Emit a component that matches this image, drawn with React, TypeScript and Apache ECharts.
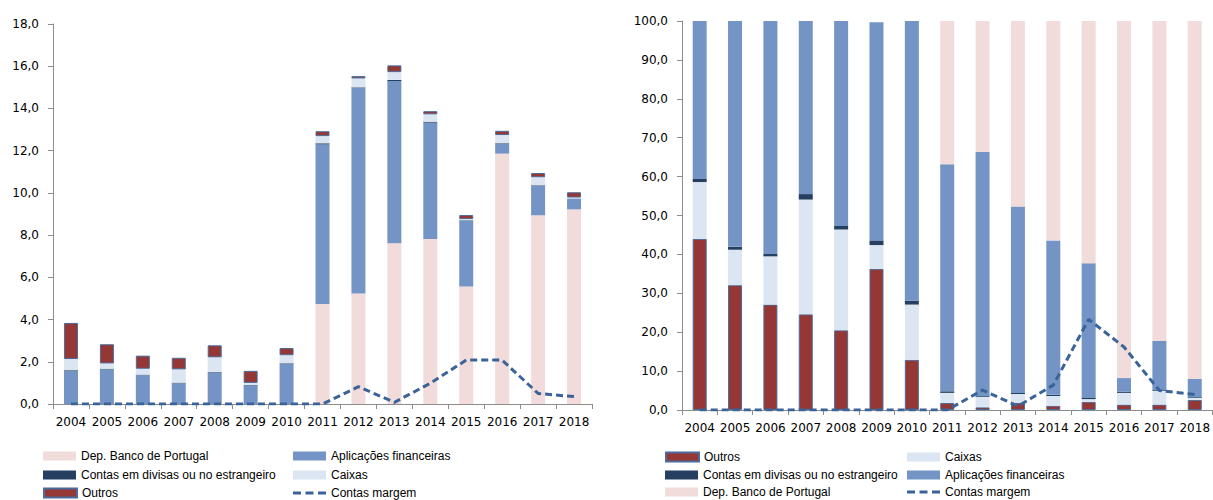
import React, { useEffect, useRef } from "react";
import * as echarts from "echarts";

const years = ["2004", "2005", "2006", "2007", "2008", "2009", "2010", "2011", "2012", "2013", "2014", "2015", "2016", "2017", "2018"];

// Left chart: absolute values (stack bottom -> top)
const depAbs = [0, 0, 0, 0, 0, 0, 0, 4.74, 5.24, 7.61, 7.82, 5.57, 11.86, 8.94, 9.22];
const aplAbs = [1.56, 1.64, 1.37, 0.98, 1.48, 0.88, 1.9, 7.56, 9.73, 7.69, 5.51, 3.1, 0.45, 1.39, 0.49];
const contasAbs = [0.04, 0.03, 0.02, 0.03, 0.03, 0.02, 0.03, 0.05, 0.03, 0.05, 0.04, 0.03, 0.04, 0.03, 0.02];
const caixasAbs = [0.53, 0.25, 0.28, 0.63, 0.7, 0.1, 0.38, 0.34, 0.42, 0.37, 0.35, 0.06, 0.39, 0.38, 0.05];
const outrosAbs = [1.71, 0.91, 0.62, 0.55, 0.57, 0.57, 0.34, 0.23, 0.11, 0.32, 0.15, 0.19, 0.2, 0.2, 0.25];
const margemAbs = [0, 0, 0, 0, 0, 0, 0, 0, 0.82, 0.08, 0.98, 2.08, 2.08, 0.5, 0.35];

// Right chart: percentages (stack bottom -> top)
const outrosPct = [44.0, 32.1, 27.1, 24.6, 20.5, 36.3, 12.9, 1.8, 0.7, 1.8, 1.1, 2.1, 1.4, 1.4, 2.6];
const caixasPct = [14.6, 9.1, 12.4, 29.5, 25.9, 6.1, 14.2, 2.6, 2.7, 2.3, 2.5, 0.7, 3.0, 3.5, 0.5];
const contasPct = [0.8, 0.8, 0.6, 1.4, 0.9, 1.2, 1.0, 0.4, 0.2, 0.3, 0.3, 0.3, 0.3, 0.2, 0.2];
const aplPct = [40.6, 58.0, 59.9, 44.5, 52.7, 56.1, 71.9, 58.4, 62.7, 47.9, 39.7, 34.6, 3.5, 12.7, 4.7];
const depPct = [0, 0, 0, 0, 0, 0, 0, 36.8, 33.7, 47.7, 56.4, 62.3, 91.8, 82.2, 92.0];
const margemPct = [0, 0, 0, 0, 0, 0, 0, 0, 5.1, 1.0, 6.4, 23.3, 16.2, 5.0, 4.0];

const leftTicks = { min: 0, max: 18, interval: 2 };
const rightTicks = { min: 0, max: 100, interval: 10 };

const C = {
  dep: "#F2DCDB",
  apl: "#7394C5",
  contas: "#243F60",
  caixas: "#DCE6F2",
  outros: "#953735",
  margem: "#3A6399",
  axis: "#8C8C8C",
};

const N = {
  dep: "Dep. Banco de Portugal",
  apl: "Aplicações financeiras",
  contas: "Contas em divisas ou no estrangeiro",
  caixas: "Caixas",
  outros: "Outros",
  margem: "Contas margem",
};

const dashIcon =
  "path://M0,0h0.01v0.01h-0.01z M33,9h-0.01v-0.01h0.01z M0,3h8v3h-8z M12.5,3h8v3h-8z M25,3h8v3h-8z";

const axisFont = { fontFamily: "DejaVu Sans", fontSize: 12, color: "#000" };
const fmt = (v: number) => v.toFixed(1).replace(".", ",");

function xAxis(gridIndex: number) {
  return {
    type: "category",
    gridIndex,
    data: years,
    boundaryGap: true,
    axisLine: { show: true, lineStyle: { color: C.axis, width: 1 } },
    axisTick: { show: true, length: 5, lineStyle: { color: C.axis } },
    axisLabel: { ...axisFont, margin: 12, interval: 0 },
    splitLine: { show: false },
  };
}

function yAxis(gridIndex: number, t: { min: number; max: number; interval: number }) {
  return {
    type: "value",
    gridIndex,
    min: t.min,
    max: t.max,
    interval: t.interval,
    axisLine: { show: true, lineStyle: { color: C.axis, width: 1 } },
    axisTick: { show: true, length: 5, lineStyle: { color: C.axis } },
    axisLabel: { ...axisFont, margin: 14, formatter: fmt },
    splitLine: { show: false },
  };
}

function bar(name: string, data: number[], color: string, stack: string, idx: number, border?: string) {
  return {
    type: "bar",
    name,
    data,
    stack,
    xAxisIndex: idx,
    yAxisIndex: idx,
    barWidth: 14,
    itemStyle: border ? { color, borderColor: border, borderWidth: 1 } : { color },
    emphasis: { disabled: true },
  };
}

function line(name: string, data: number[], idx: number) {
  return {
    type: "line",
    name,
    data,
    xAxisIndex: idx,
    yAxisIndex: idx,
    symbol: "none",
    z: 5,
    lineStyle: { color: C.margem, width: 3, type: [7, 4] },
    itemStyle: { color: C.margem },
    emphasis: { disabled: true },
  };
}

function leg(name: string, left: number, cy: number) {
  const isLine = name === N.margem;
  return {
    show: true,
    data: [{ name, icon: isLine ? dashIcon : "rect" }],
    left,
    top: cy - 8,
    padding: 0,
    itemWidth: 33,
    itemHeight: 9,
    symbolKeepAspect: false,
    selectedMode: false,
    textStyle: { fontFamily: "Liberation Sans", fontSize: 12, color: "#000", lineHeight: 16 },
  };
}

export default function App() {
  const ref = useRef<HTMLDivElement>(null);
  useEffect(() => {
    const chart = echarts.init(ref.current!, null, { renderer: "svg" });
    chart.setOption({
      animation: false,
      backgroundColor: "#fff",
      grid: [
        { left: 53, top: 24, width: 539, bottom: 96 },
        { left: 682, top: 21, width: 531, bottom: 90 },
      ],
      xAxis: [xAxis(0), xAxis(1)],
      yAxis: [yAxis(0, leftTicks), yAxis(1, rightTicks)],
      legend: [
        leg(N.dep, 43, 456),
        leg(N.contas, 43, 475),
        leg(N.outros, 43, 493),
        leg(N.apl, 293, 456),
        leg(N.caixas, 293, 475),
        leg(N.margem, 293, 493),
        leg(N.outros, 665, 457),
        leg(N.contas, 665, 475),
        leg(N.dep, 665, 492),
        leg(N.caixas, 907, 457),
        leg(N.apl, 907, 475),
        leg(N.margem, 907, 492),
      ],
      series: [
        bar(N.dep, depAbs, C.dep, "L", 0),
        bar(N.apl, aplAbs, C.apl, "L", 0),
        bar(N.contas, contasAbs, C.contas, "L", 0),
        bar(N.caixas, caixasAbs, C.caixas, "L", 0),
        bar(N.outros, outrosAbs, C.outros, "L", 0, "#4A6B9B"),
        line(N.margem, margemAbs, 0),
        bar(N.outros, outrosPct, C.outros, "R", 1, "#4A6B9B"),
        bar(N.caixas, caixasPct, C.caixas, "R", 1),
        bar(N.contas, contasPct, C.contas, "R", 1),
        bar(N.apl, aplPct, C.apl, "R", 1),
        bar(N.dep, depPct, C.dep, "R", 1),
        line(N.margem, margemPct, 1),
      ],
    });
    return () => chart.dispose();
  }, []);
  return <div ref={ref} style={{ position: "absolute", left: 0, top: 0, width: 1213, height: 500 }} />;
}
